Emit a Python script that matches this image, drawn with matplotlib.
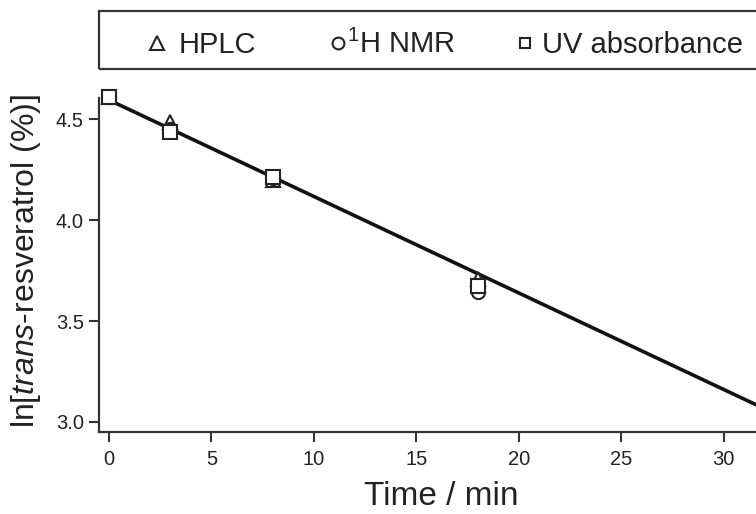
import matplotlib
matplotlib.use("Agg")
import matplotlib.pyplot as plt
from matplotlib.lines import Line2D
from matplotlib.patches import Rectangle
import numpy as np

plt.rcParams['font.family'] = ['Liberation Sans', 'DejaVu Sans']
plt.rcParams['mathtext.fontset'] = 'custom'
plt.rcParams['mathtext.rm'] = 'Liberation Sans'
plt.rcParams['mathtext.it'] = 'Liberation Sans:italic'

# data
time_min = [0, 3, 8, 18]
hplc = [4.61, 4.485, 4.20, 3.71]
nmr = [4.61, 4.45, 4.21, 3.645]
uv = [4.61, 4.435, 4.215, 3.675]
fit_intercept = 4.595
fit_slope = -0.0478

series = [('HPLC', '^', hplc), ('$^1$H NMR', 'o', nmr), ('UV absorbance', 's', uv)]

W, H = 756, 514
fig = plt.figure(figsize=(W / 100, H / 100), dpi=100)
ax = fig.add_axes([99 / W, 1 - 432 / H, 686 / W, 334 / H])

xfit = np.array([0, 35])
ax.plot(xfit, fit_intercept + fit_slope * xfit, color='#111111', lw=2.6, zorder=2)

for name, m, vals in series:
    ax.plot(time_min, vals, marker=m, linestyle='none', mfc='white', mec='#222222',
            mew=1.5, ms=9.5, zorder=3, clip_on=False)

ax.set_xlim(-0.49, 33.0)
ax.set_ylim(2.95, 4.605)
ax.set_xticks([0, 5, 10, 15, 20, 25, 30])
ax.set_yticks([3.0, 3.5, 4.0, 4.5])
ax.spines['top'].set_visible(False)
ax.spines['right'].set_visible(False)
for s in ('left', 'bottom'):
    ax.spines[s].set_linewidth(1.6)
    ax.spines[s].set_color('#333333')
ax.tick_params(direction='out', length=7, width=1.5, color='#333333',
               labelsize=14.5, labelcolor='#222222')
ax.tick_params(axis='x', pad=6)
ax.tick_params(axis='y', pad=4)
ax.set_xlabel('Time / min', fontsize=24, color='#222222')
ax.xaxis.set_label_coords(0.4985, -0.148)
ax.set_ylabel(r'ln[$\it{trans}$-resveratrol (%)]', fontsize=23, color='#222222',
              labelpad=9)
ax.yaxis.label.set_y(0.512)

# legend box across the top, drawn in pixel positions of the figure
fig.add_artist(Rectangle((99 / W, 1 - 69 / H), 760 / W, 58 / H, transform=fig.transFigure,
                         fill=False, edgecolor='#333333', linewidth=1.6))
leg_marker_x = [157, 338, 525]
leg_text_x = [179, 347, 542]
leg_ms = [10, 8.5, 7]
for (name, m, vals), mx, tx, ms in zip(series, leg_marker_x, leg_text_x, leg_ms):
    fig.add_artist(Line2D([mx / W], [1 - 43 / H], transform=fig.transFigure, marker=m,
                          linestyle='none', mfc='white', mec='#222222', mew=1.5, ms=ms))
    fig.text(tx / W, 1 - 53 / H, name, fontsize=21, color='#222222',
             ha='left', va='baseline')

fig.savefig('out.png', dpi=100)
